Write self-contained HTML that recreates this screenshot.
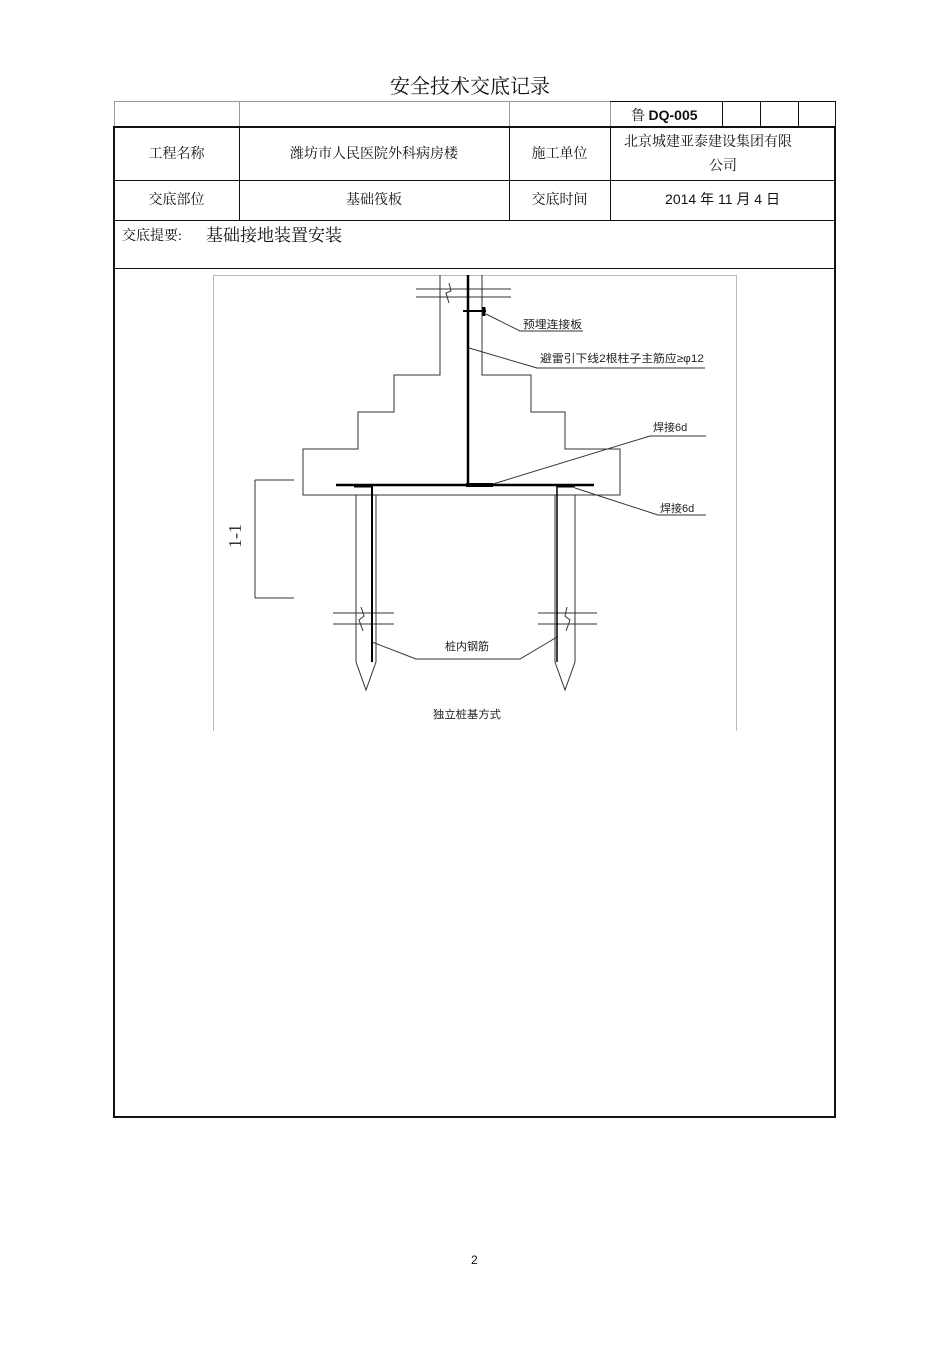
<!DOCTYPE html>
<html><head><meta charset="utf-8"><style>
body{margin:0;width:950px;height:1345px;background:#fff;position:relative;font-family:"Liberation Sans","Noto Sans CJK SC",sans-serif;color:#111;overflow:hidden}
.t{position:absolute;white-space:nowrap}
.s{font-family:"Liberation Serif","Noto Serif CJK SC",serif}
</style></head><body>
<div class="t" style="left:0;width:940px;text-align:center;top:70px;font-size:20px;font-family:'Liberation Serif','Noto Serif CJK SC',serif">安全技术交底记录</div>
<svg width="950" height="1345" style="position:absolute;left:0;top:0">
<g stroke="#999" stroke-width="1" fill="none">
<line x1="114" y1="101.5" x2="836" y2="101.5"/>
<line x1="114.5" y1="101" x2="114.5" y2="127"/>
<line x1="239.5" y1="101" x2="239.5" y2="127"/>
<line x1="509.5" y1="101" x2="509.5" y2="127"/>
<line x1="610.5" y1="101" x2="610.5" y2="127"/>
</g>
<g stroke="#111" stroke-width="1" fill="none">
<line x1="722.5" y1="101" x2="722.5" y2="127"/>
<line x1="760.5" y1="101" x2="760.5" y2="127"/>
<line x1="798.5" y1="101" x2="798.5" y2="127"/>
<line x1="835.5" y1="101" x2="835.5" y2="127"/>
<line x1="610" y1="101.5" x2="836" y2="101.5"/>
<line x1="239.5" y1="127" x2="239.5" y2="220"/>
<line x1="509.5" y1="127" x2="509.5" y2="220"/>
<line x1="610.5" y1="127" x2="610.5" y2="220"/>
<line x1="114" y1="180.5" x2="836" y2="180.5"/>
<line x1="114" y1="220.5" x2="836" y2="220.5"/>
<line x1="114" y1="268.5" x2="836" y2="268.5"/>
</g>
<rect x="114" y="127" width="721" height="990" stroke="#111" stroke-width="2" fill="none"/>
<g stroke="#bbb" stroke-width="1" fill="none">
<line x1="213.5" y1="275" x2="213.5" y2="731"/>
<line x1="736.5" y1="275" x2="736.5" y2="731"/>
<line x1="213" y1="275.5" x2="736" y2="275.5"/>
</g>
<g stroke="#333" stroke-width="1" fill="none">
<path d="M440 275 V375 H394 V412 H358 V449 H303 V495 H620 V449 H565 V412 H531 V375 H482 V275"/>
<line x1="416" y1="289" x2="511" y2="289"/><line x1="416" y1="297" x2="511" y2="297"/>
<path d="M449 283 L451 291 L446 293 L449 303" />
<path d="M356 495 V662 L366 690 L376 662 V495"/>
<path d="M555 495 V662 L565 690 L575 662 V495"/>
<line x1="333" y1="613" x2="394" y2="613"/><line x1="333" y1="624" x2="394" y2="624"/>
<line x1="538" y1="613" x2="597" y2="613"/><line x1="538" y1="624" x2="597" y2="624"/>
<path d="M361 607 L364 616 L359 620 L363 631"/>
<path d="M567 607 L565 616 L570 620 L566 631"/>
<path d="M255 480 V598 M255 480 H294 M255 598 H294"/>
<path d="M486 314 L520 331 H583"/>
<path d="M469 348 L537 368 H705"/>
<path d="M493 484 L650 436 H706"/>
<path d="M575 488 L658 515 H706"/>
<path d="M372 642 L416 659 H520 L557 637"/>
</g>
<g stroke="#000" fill="none">
<line x1="468" y1="275" x2="468" y2="485" stroke-width="2.5"/>
<line x1="336" y1="485" x2="594" y2="485" stroke-width="2.5"/>
<line x1="466" y1="485" x2="493" y2="485" stroke-width="4"/>
<line x1="354" y1="486" x2="372" y2="486" stroke-width="3"/>
<line x1="557" y1="486" x2="575" y2="486" stroke-width="3"/>
<line x1="372" y1="485" x2="372" y2="662" stroke-width="2"/>
<line x1="557" y1="485" x2="557" y2="662" stroke-width="1.5"/>
<line x1="463" y1="311" x2="486" y2="311" stroke-width="2"/>
<line x1="484" y1="307" x2="484" y2="316" stroke-width="3"/>
</g>
<g font-size="11" fill="#222" font-family="'Liberation Sans','Noto Sans CJK SC',sans-serif">
<text x="523" y="328" textLength="59" lengthAdjust="spacingAndGlyphs">预埋连接板</text>
<text x="540" y="362" textLength="164" lengthAdjust="spacingAndGlyphs">避雷引下线2根柱子主筋应≥φ12</text>
<text x="653" y="431">焊接6d</text>
<text x="660" y="512">焊接6d</text>
<text x="445" y="650">桩内钢筋</text>
<text x="433" y="718" textLength="68" lengthAdjust="spacingAndGlyphs">独立桩基方式</text>
</g>
<text x="0" y="0" font-size="18" fill="#333" font-family="'Liberation Serif',serif" transform="translate(241,548) rotate(-90)">1-1</text>
</svg>
<div class="t s" style="left:631px;top:105px;font-size:14px">鲁 <b style="font-family:'Liberation Sans',sans-serif">DQ-005</b></div>
<div class="t s" style="left:114px;width:125px;text-align:center;top:143px;font-size:14px">工程名称</div>
<div class="t s" style="left:239px;width:270px;text-align:center;top:143px;font-size:14px">潍坊市人民医院外科病房楼</div>
<div class="t s" style="left:509px;width:101px;text-align:center;top:143px;font-size:14px">施工单位</div>
<div class="t s" style="left:624px;top:131px;font-size:14px">北京城建亚泰建设集团有限</div>
<div class="t s" style="left:709px;top:155px;font-size:14px">公司</div>
<div class="t s" style="left:114px;width:125px;text-align:center;top:189px;font-size:14px">交底部位</div>
<div class="t s" style="left:239px;width:270px;text-align:center;top:189px;font-size:14px">基础筏板</div>
<div class="t s" style="left:509px;width:101px;text-align:center;top:189px;font-size:14px">交底时间</div>
<div class="t" style="left:610px;width:225px;text-align:center;top:189px;font-size:14px">2014 年 11 月 4 日</div>
<div class="t s" style="left:122px;top:225px;font-size:14px">交底提要:</div>
<div class="t s" style="left:206px;top:221px;font-size:17px">基础接地装置安装</div>
<div class="t" style="left:471px;top:1253px;font-size:12px">2</div>
</body></html>
